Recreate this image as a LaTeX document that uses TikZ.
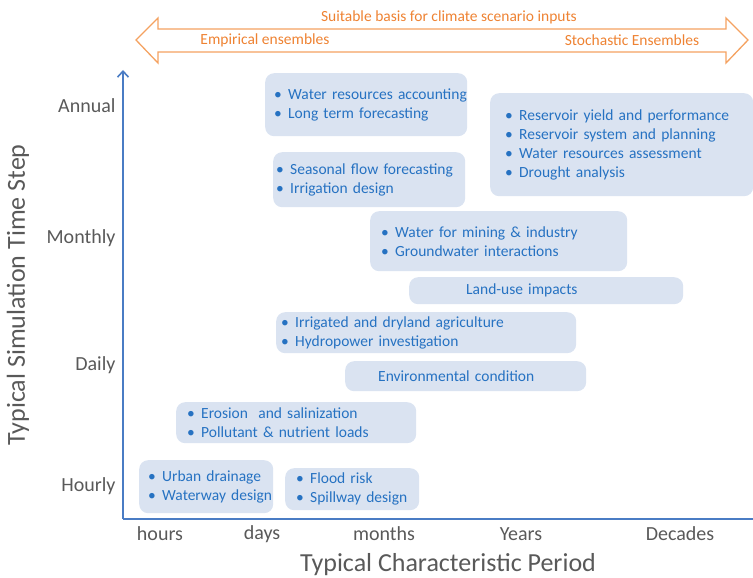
\documentclass[tikz,border=0pt]{standalone}
\usepackage{fontspec}
\setmainfont{Carlito}
\usetikzlibrary{arrows.meta}
\definecolor{boxfill}{HTML}{DAE3F1}
\definecolor{txtblue}{HTML}{2672C2}
\definecolor{axisblue}{HTML}{4A7CC4}
\definecolor{orangeline}{HTML}{F4A261}
\definecolor{orangetxt}{HTML}{EE8232}
\definecolor{graytxt}{HTML}{595959}
\newcommand\bul[1]{\mbox{\makebox[14pt][l]{•}#1}}
\begin{document}
\begin{tikzpicture}[x=1pt,y=-1pt,
  box/.style={fill=boxfill, rounded corners=9pt, inner ysep=0pt, align=left,
    anchor=north west, text=txtblue, font={\fontsize{15.5}{19}\selectfont}},
  axis/.style={draw=axisblue, line width=1.6pt},
  ylab/.style={anchor=east, text=graytxt, font={\fontsize{20}{24}\selectfont}},
  xlab/.style={text=graytxt, font={\fontsize{20}{24}\selectfont}},
  title/.style={text=graytxt, font={\fontsize{26}{30}\selectfont}},
  otext/.style={text=orangetxt, font={\fontsize{15.5}{19}\selectfont}}]
\useasboundingbox (0,0) rectangle (753,578);

% top double arrow
\draw[draw=orangeline, line width=1.3pt, line join=miter]
  (136,40) -- (158,18) -- (158,29) -- (726,29) -- (726,18) -- (748,40)
  -- (726,63) -- (726,52) -- (158,52) -- (158,63) -- cycle;
\node[otext] (suit) at (449,17) {Suitable basis for climate scenario inputs};
\node[otext] (emp) at (265,40) {Empirical ensembles};
\node[otext] (sto) at (632,40) {Stochastic Ensembles};

% axes
\coordinate (origin) at (123,519);
\coordinate (ytop) at (123,70);
\coordinate (xend) at (753,519);
\draw[axis, -{Straight Barb[length=6pt,width=11pt]}] (origin) -- (ytop);
\draw[axis] (origin) -- (xend);

% y labels
\node[ylab] (annual) at (119,106) {Annual};
\node[ylab] (monthly) at (119,238) {Monthly};
\node[ylab] (daily) at (119,365) {Daily};
\node[ylab] (hourly) at (119,486) {Hourly};
% x labels
\node[xlab] (hours) at (160,534) {hours};
\node[xlab] (days) at (262,534) {days};
\node[xlab] (months) at (384,534) {months};
\node[xlab] (years) at (521,534) {Years};
\node[xlab] (decades) at (680,534) {Decades};
% titles
\node[title] (xtitle) at (448,565) {Typical Characteristic Period};
\node[title, rotate=90] (ytitle) at (18,295) {Typical Simulation Time Step};

% boxes
\node[box, minimum width=202pt, minimum height=63pt, inner xsep=9pt, text width=184pt] (b1) at (265,73)
  {\bul{Water resources accounting}\\\bul{Long term forecasting}};
\node[box, minimum width=192pt, minimum height=55pt, inner xsep=3pt, text width=186pt] (b2) at (273,152)
  {\bul{Seasonal flow forecasting}\\\bul{Irrigation design}};
\node[box, minimum width=263pt, minimum height=103pt, inner xsep=15pt, text width=233pt] (b3) at (490,93)
  {\bul{Reservoir yield and performance}\\\bul{Reservoir system and planning}\\\bul{Water resources assessment}\\\bul{Drought analysis}};
\node[box, minimum width=257pt, minimum height=60pt, inner xsep=11pt, text width=235pt] (b4) at (370,211)
  {\bul{Water for mining \& industry}\\\bul{Groundwater interactions}};
\node[box, minimum width=274pt, minimum height=27pt, inner xsep=57pt, text width=160pt] (b5) at (409,277)
  {Land-use impacts};
\node[box, minimum width=300pt, minimum height=41pt, inner xsep=5pt, text width=290pt] (b6) at (276,312)
  {\bul{Irrigated and dryland agriculture}\\\bul{Hydropower investigation}};
\node[box, minimum width=241pt, minimum height=30pt, inner xsep=33pt, text width=175pt] (b7) at (345,361)
  {Environmental condition};
\node[box, minimum width=240pt, minimum height=41pt, inner xsep=11pt, text width=218pt] (b8) at (176,402)
  {\bul{Erosion\ \ and salinization}\\\bul{Pollutant \& nutrient loads}};
\node[box, minimum width=134pt, minimum height=53pt, inner xsep=9pt, text width=116pt] (b9) at (139,460)
  {\bul{Urban drainage}\\\bul{Waterway design}};
\node[box, minimum width=134pt, minimum height=42pt, inner xsep=11pt, text width=112pt] (b10) at (285,468)
  {\bul{Flood risk}\\\bul{Spillway design}};
\end{tikzpicture}
\end{document}
